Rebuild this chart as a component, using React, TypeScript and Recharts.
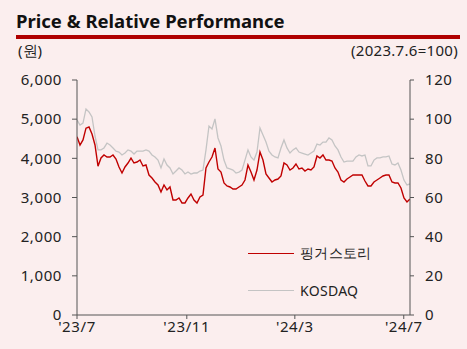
import React from 'react';
import { LineChart, Line, XAxis, YAxis, Legend } from 'recharts';

// 핑거스토리 price (KRW), sampled every ~3.36 days from 2023-07-06
const priceValues = [
  4550, 4340, 4470, 4770, 4800, 4620, 4340, 3800, 4010, 4085,
  4034, 4034, 4085, 3983, 3779, 3626, 3779, 3881, 4008, 3881,
  3906, 3957, 3804, 3830, 3574, 3498, 3396, 3319, 3140, 3319,
  3192, 3268, 2936, 2936, 2987, 2860, 2860, 2987, 3089, 2936,
  2860, 3013, 3064, 3753, 3906, 4034, 4264, 3728, 3651, 3370,
  3294, 3268, 3217, 3217, 3268, 3319, 3447, 3830, 3651, 3447,
  3702, 4162, 3957, 3600, 3498, 3396, 3447, 3472, 3549, 3881,
  3830, 3702, 3753, 3855, 3728, 3753, 3677, 3728, 3702, 3779,
  4060, 4008, 4085, 3957, 3957, 3932, 3753, 3651, 3447, 3396,
  3472, 3523, 3574, 3574, 3574, 3574, 3421, 3294, 3294, 3396,
  3447, 3498, 3549, 3574, 3574, 3396, 3370, 3370, 3243, 2987,
  2885, 2962,
];

// KOSDAQ relative index (2023.7.6 = 100)
const kosdaqValues = [
  99.6, 97.0, 98.0, 105.2, 103.7, 101.1, 91.4, 84.3, 84.3, 85.3,
  87.8, 86.8, 85.3, 83.7, 83.2, 81.7, 82.7, 84.3, 83.7, 82.2,
  83.7, 83.7, 83.7, 84.3, 83.7, 81.7, 80.7, 79.1, 75.1, 79.7,
  76.6, 75.1, 72.0, 73.5, 75.1, 74.0, 72.0, 73.0, 72.0, 72.5,
  72.5, 73.5, 74.0, 84.3, 96.5, 95.0, 100.1, 90.4, 86.3, 79.1,
  75.1, 74.6, 74.0, 72.5, 73.0, 74.0, 79.1, 84.3, 80.7, 79.1,
  83.2, 95.5, 91.9, 88.3, 83.7, 81.7, 80.7, 80.2, 85.3, 89.4,
  85.3, 82.7, 84.3, 85.3, 83.2, 82.7, 82.2, 81.7, 82.7, 83.7,
  87.3, 86.8, 88.3, 88.3, 90.4, 89.4, 86.3, 84.3, 80.7, 78.1,
  78.6, 78.6, 78.6, 80.7, 81.7, 81.2, 81.7, 76.1, 76.1, 79.1,
  80.2, 80.2, 80.7, 80.7, 81.2, 77.1, 76.6, 77.6, 74.0, 68.9,
  66.4, 66.9,
];

const STEP_DAYS = 3.36;
const xTickDays = [0, 123, 244, 366];
const xTickLabels = ["'23/7", "'23/11", "'24/3", "'24/7"];
const priceTicks = [0, 1000, 2000, 3000, 4000, 5000, 6000];
const indexTicks = [0, 20, 40, 60, 80, 100, 120];
const seriesNames = ['핑거스토리', 'KOSDAQ'];

const data = priceValues.map((p, i) => ({
  day: i * STEP_DAYS,
  price: p,
  kosdaq: kosdaqValues[i],
}));

const BG = '#FBEEEE';
const TEXT = '#222222';
const AXIS = '#555555';
const RED = '#C00000';
const GREY = '#C4C4C4';
const FONT = '"Noto Sans", sans-serif';

const tickStyle = { fill: TEXT, fontSize: 15, fontFamily: FONT, letterSpacing: 0.6 };

const LegendContent = (props: any) => {
  const payload = [...(props.payload || [])].sort(
    (a: any, b: any) => seriesNames.indexOf(a.value) - seriesNames.indexOf(b.value)
  );
  return (
    <div style={{ fontFamily: FONT, fontSize: 14, color: TEXT, letterSpacing: 0.3 }}>
      {payload.map((e: any, i: number) => (
        <div
          key={i}
          style={{ display: 'flex', alignItems: 'center', height: 20, marginBottom: i === 0 ? 17 : 0 }}
        >
          <div style={{ width: 46, height: 0, borderTop: `1.5px solid ${e.color}`, marginRight: 6 }} />
          <span>{e.value}</span>
        </div>
      ))}
    </div>
  );
};

export default function App() {
  return (
    <div
      style={{
        position: 'absolute',
        left: 0,
        top: 0,
        width: 467,
        height: 349,
        background: BG,
        overflow: 'hidden',
      }}
    >
      <div
        style={{
          position: 'absolute',
          left: 16,
          top: 10,
          fontFamily: FONT,
          fontWeight: 700,
          fontSize: 18.5,
          lineHeight: '22px',
          color: '#111',
          whiteSpace: 'nowrap',
        }}
      >
        Price &amp; Relative Performance
      </div>
      <div
        style={{
          position: 'absolute',
          left: 16,
          top: 35,
          width: 444,
          height: 3.5,
          background: '#B00000',
        }}
      />
      <div
        style={{
          position: 'absolute',
          left: 18,
          top: 41,
          fontFamily: FONT,
          fontSize: 15,
          lineHeight: '18px',
          color: TEXT,
        }}
      >
        (원)
      </div>
      <div
        style={{
          position: 'absolute',
          right: 9,
          top: 41,
          fontFamily: FONT,
          fontSize: 15,
          letterSpacing: 0.3,
          lineHeight: '18px',
          color: TEXT,
        }}
      >
        (2023.7.6=100)
      </div>
      <div style={{ position: 'absolute', left: 0, top: 0 }}>
        <LineChart
          width={467}
          height={349}
          data={data}
          margin={{ top: 80, right: 7, bottom: 4, left: 17 }}
        >
          <XAxis
            dataKey="day"
            type="number"
            domain={[0, 373]}
            ticks={xTickDays}
            tickFormatter={(v: number) => xTickLabels[xTickDays.indexOf(v)]}
            height={30}
            tick={tickStyle}
            tickSize={4}
            tickMargin={2}
            stroke={AXIS}
            interval={0}
            allowDataOverflow
          />
          <YAxis
            yAxisId="left"
            domain={[0, 6000]}
            ticks={priceTicks}
            tickFormatter={(v: number) => v.toLocaleString('en-US')}
            width={60}
            tick={tickStyle}
            tickSize={5}
            tickMargin={10}
            stroke={AXIS}
            interval={0}
          />
          <YAxis
            yAxisId="right"
            orientation="right"
            domain={[0, 120]}
            ticks={indexTicks}
            width={50}
            tick={tickStyle}
            tickSize={4}
            tickMargin={11}
            stroke={AXIS}
            interval={0}
          />
          <Legend
            layout="vertical"
            align="center"
            verticalAlign="middle"
            wrapperStyle={{ left: 248, top: 243, width: 160 }}
            content={<LegendContent />}
          />
          <Line
            yAxisId="right"
            dataKey="kosdaq"
            name={seriesNames[1]}
            stroke={GREY}
            strokeWidth={1.3}
            dot={false}
            isAnimationActive={false}
          />
          <Line
            yAxisId="left"
            dataKey="price"
            name={seriesNames[0]}
            stroke={RED}
            strokeWidth={1.4}
            dot={false}
            isAnimationActive={false}
          />
        </LineChart>
      </div>
    </div>
  );
}
